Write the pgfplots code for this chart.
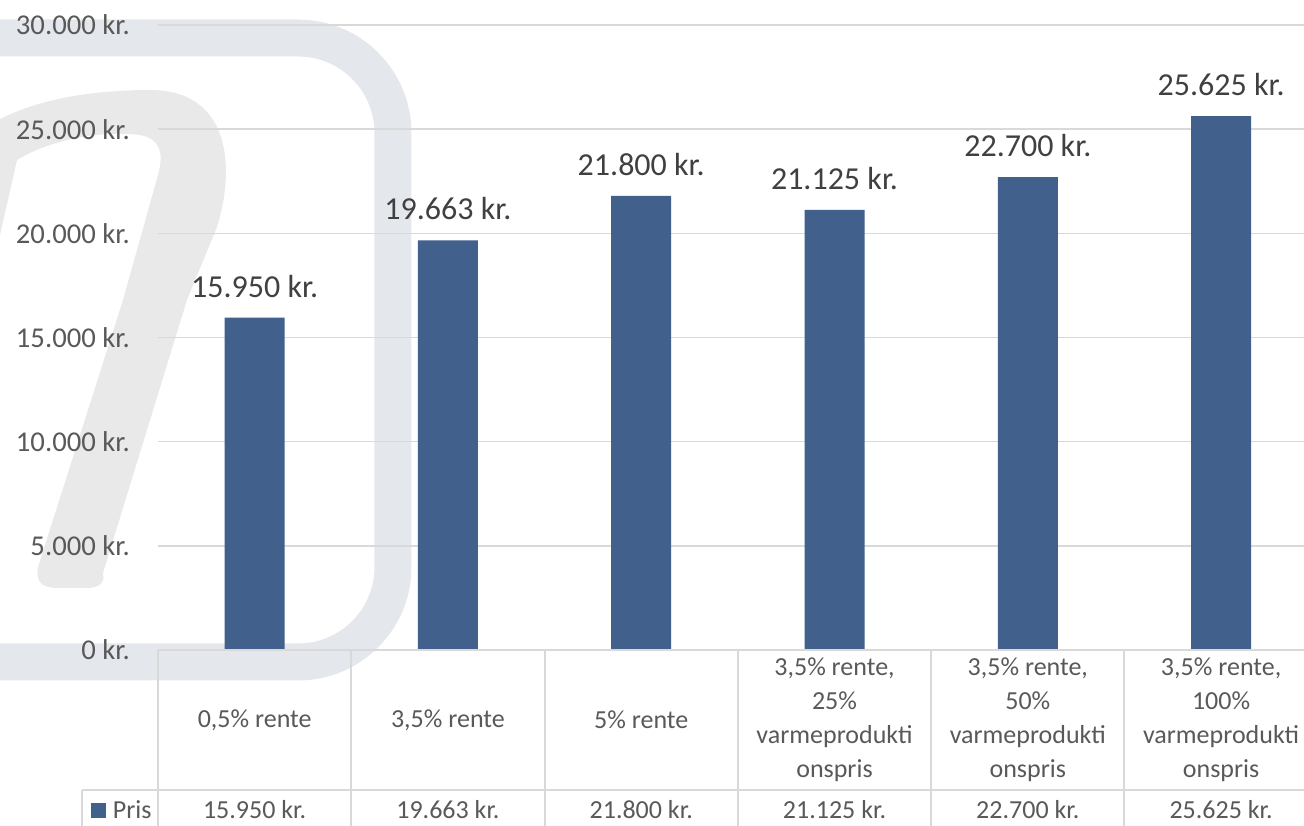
\documentclass[border=0pt]{standalone}
\usepackage{fontspec}
\setmainfont{Carlito}
\usepackage{pgfplots}
\pgfplotsset{compat=1.18}

\definecolor{barc}{RGB}{65,96,140}
\definecolor{gridc}{RGB}{217,217,217}
\definecolor{tickc}{RGB}{89,89,89}
\definecolor{labc}{RGB}{64,64,64}
\definecolor{wmblue}{RGB}{228,231,236}
\definecolor{wmgray}{RGB}{233,233,233}

\newcommand{\tabfont}{\fontsize{26bp}{34bp}\selectfont}

\begin{document}
\begin{tikzpicture}
\useasboundingbox (-158bp,-176bp) rectangle (1146bp,650bp);
\clip (-158bp,-176bp) rectangle (1146bp,650bp);

% watermark in the background (image pixel coordinates)
\begin{scope}[shift={(-158bp,650bp)}, x=1bp, y=-1bp]
  \draw[wmblue, line width=37bp, rounded corners=95bp]
    (-60,38) -- (393,38) -- (393,662) -- (-60,662);
  \fill[wmgray]
    (103,573) -- (187,300) -- (217,227)
    .. controls (235,170) and (232,90) .. (150,90)
    .. controls (90,90) and (30,100) .. (-10,125)
    -- (-120,500) -- (-60,500) -- (17,160)
    .. controls (50,140) and (100,130) .. (140,135)
    .. controls (165,140) and (162,160) .. (158,175)
    -- (123,300) -- (38,567)
    .. controls (35,585) and (45,588) .. (60,588) -- (85,588)
    .. controls (100,588) and (105,583) .. cycle;
\end{scope}

\begin{axis}[
  at={(0,0)}, anchor=south west,
  width=1146bp, height=625bp, scale only axis,
  xmin=-0.5, xmax=5.429, ymin=0, ymax=30000,
  ytick={0,5000,...,30000},
  xtick={0,...,5},
  xticklabels={{0,5\% rente},{3,5\% rente},{5\% rente},
    {3,5\% rente,\\25\%\\varmeprodukti\\onspris},
    {3,5\% rente,\\50\%\\varmeprodukti\\onspris},
    {3,5\% rente,\\100\%\\varmeprodukti\\onspris}},
  axis line style={draw=none},
  major tick length=0pt,
  ymajorgrids,
  grid style={gridc, line width=1.5bp},
  clip=false,
  scaled y ticks=false,
  /pgf/number format/fixed,
  /pgf/number format/precision=0,
  /pgf/number format/1000 sep={.},
  /pgf/number format/assume math mode=true,
  yticklabel={\pgfmathprintnumber{\tick}~kr.},
  yticklabel style={font=\fontsize{28.7bp}{34bp}\selectfont, text=tickc,
    anchor=east, inner sep=0pt, xshift=-28bp},
  xticklabel style={font=\tabfont, text=tickc, align=center,
    anchor=center, inner sep=0pt, yshift=-70bp},
  legend style={draw=none, fill=none, inner sep=0pt, outer sep=0pt,
    at={(axis description cs:-0.0585,-0.256)}, anchor=west,
    font=\tabfont, text=tickc, nodes={inner sep=0pt},
    /tikz/every even column/.append style={column sep=8bp}},
]
\addplot[ybar, bar width=60bp, fill=barc, draw=none,
  legend image code/.code={\fill[barc] (0bp,-7.5bp) rectangle (15bp,7.5bp);},
  nodes near coords={\pgfmathprintnumber{\pgfplotspointmeta}~kr.},
  every node near coord/.append style={font=\fontsize{32bp}{38bp}\selectfont,
    text=labc, inner sep=0pt, yshift=20bp}]
  coordinates {(0,15950) (1,19663) (2,21800) (3,21125) (4,22700) (5,25625)};
\addlegendentry{\hspace{7bp}Pris}

% values row of the data table
\addplot[draw=none, fill=none, mark=none, forget plot, point meta=explicit,
  nodes near coords={\pgfmathprintnumber{\pgfplotspointmeta}~kr.},
  every node near coord/.append style={font=\tabfont, text=tickc,
    anchor=center, inner sep=0pt, yshift=-160bp}]
  coordinates {(0,0) [15950] (1,0) [19663] (2,0) [21800]
               (3,0) [21125] (4,0) [22700] (5,0) [25625]};
\end{axis}

% data table grid
\begin{scope}[shift={(-158bp,650bp)}, x=1bp, y=-1bp]
  \draw[gridc, line width=2bp] (158,650) -- (1320,650);
  \draw[gridc, line width=2bp] (82,790) -- (1320,790);
  \draw[gridc, line width=2bp] (82,790) -- (82,830);
  \foreach \xx in {158,351.3,544.6,737.9,931.2,1124.5}
    \draw[gridc, line width=2bp] (\xx,650) -- (\xx,830);
\end{scope}
\end{tikzpicture}
\end{document}
